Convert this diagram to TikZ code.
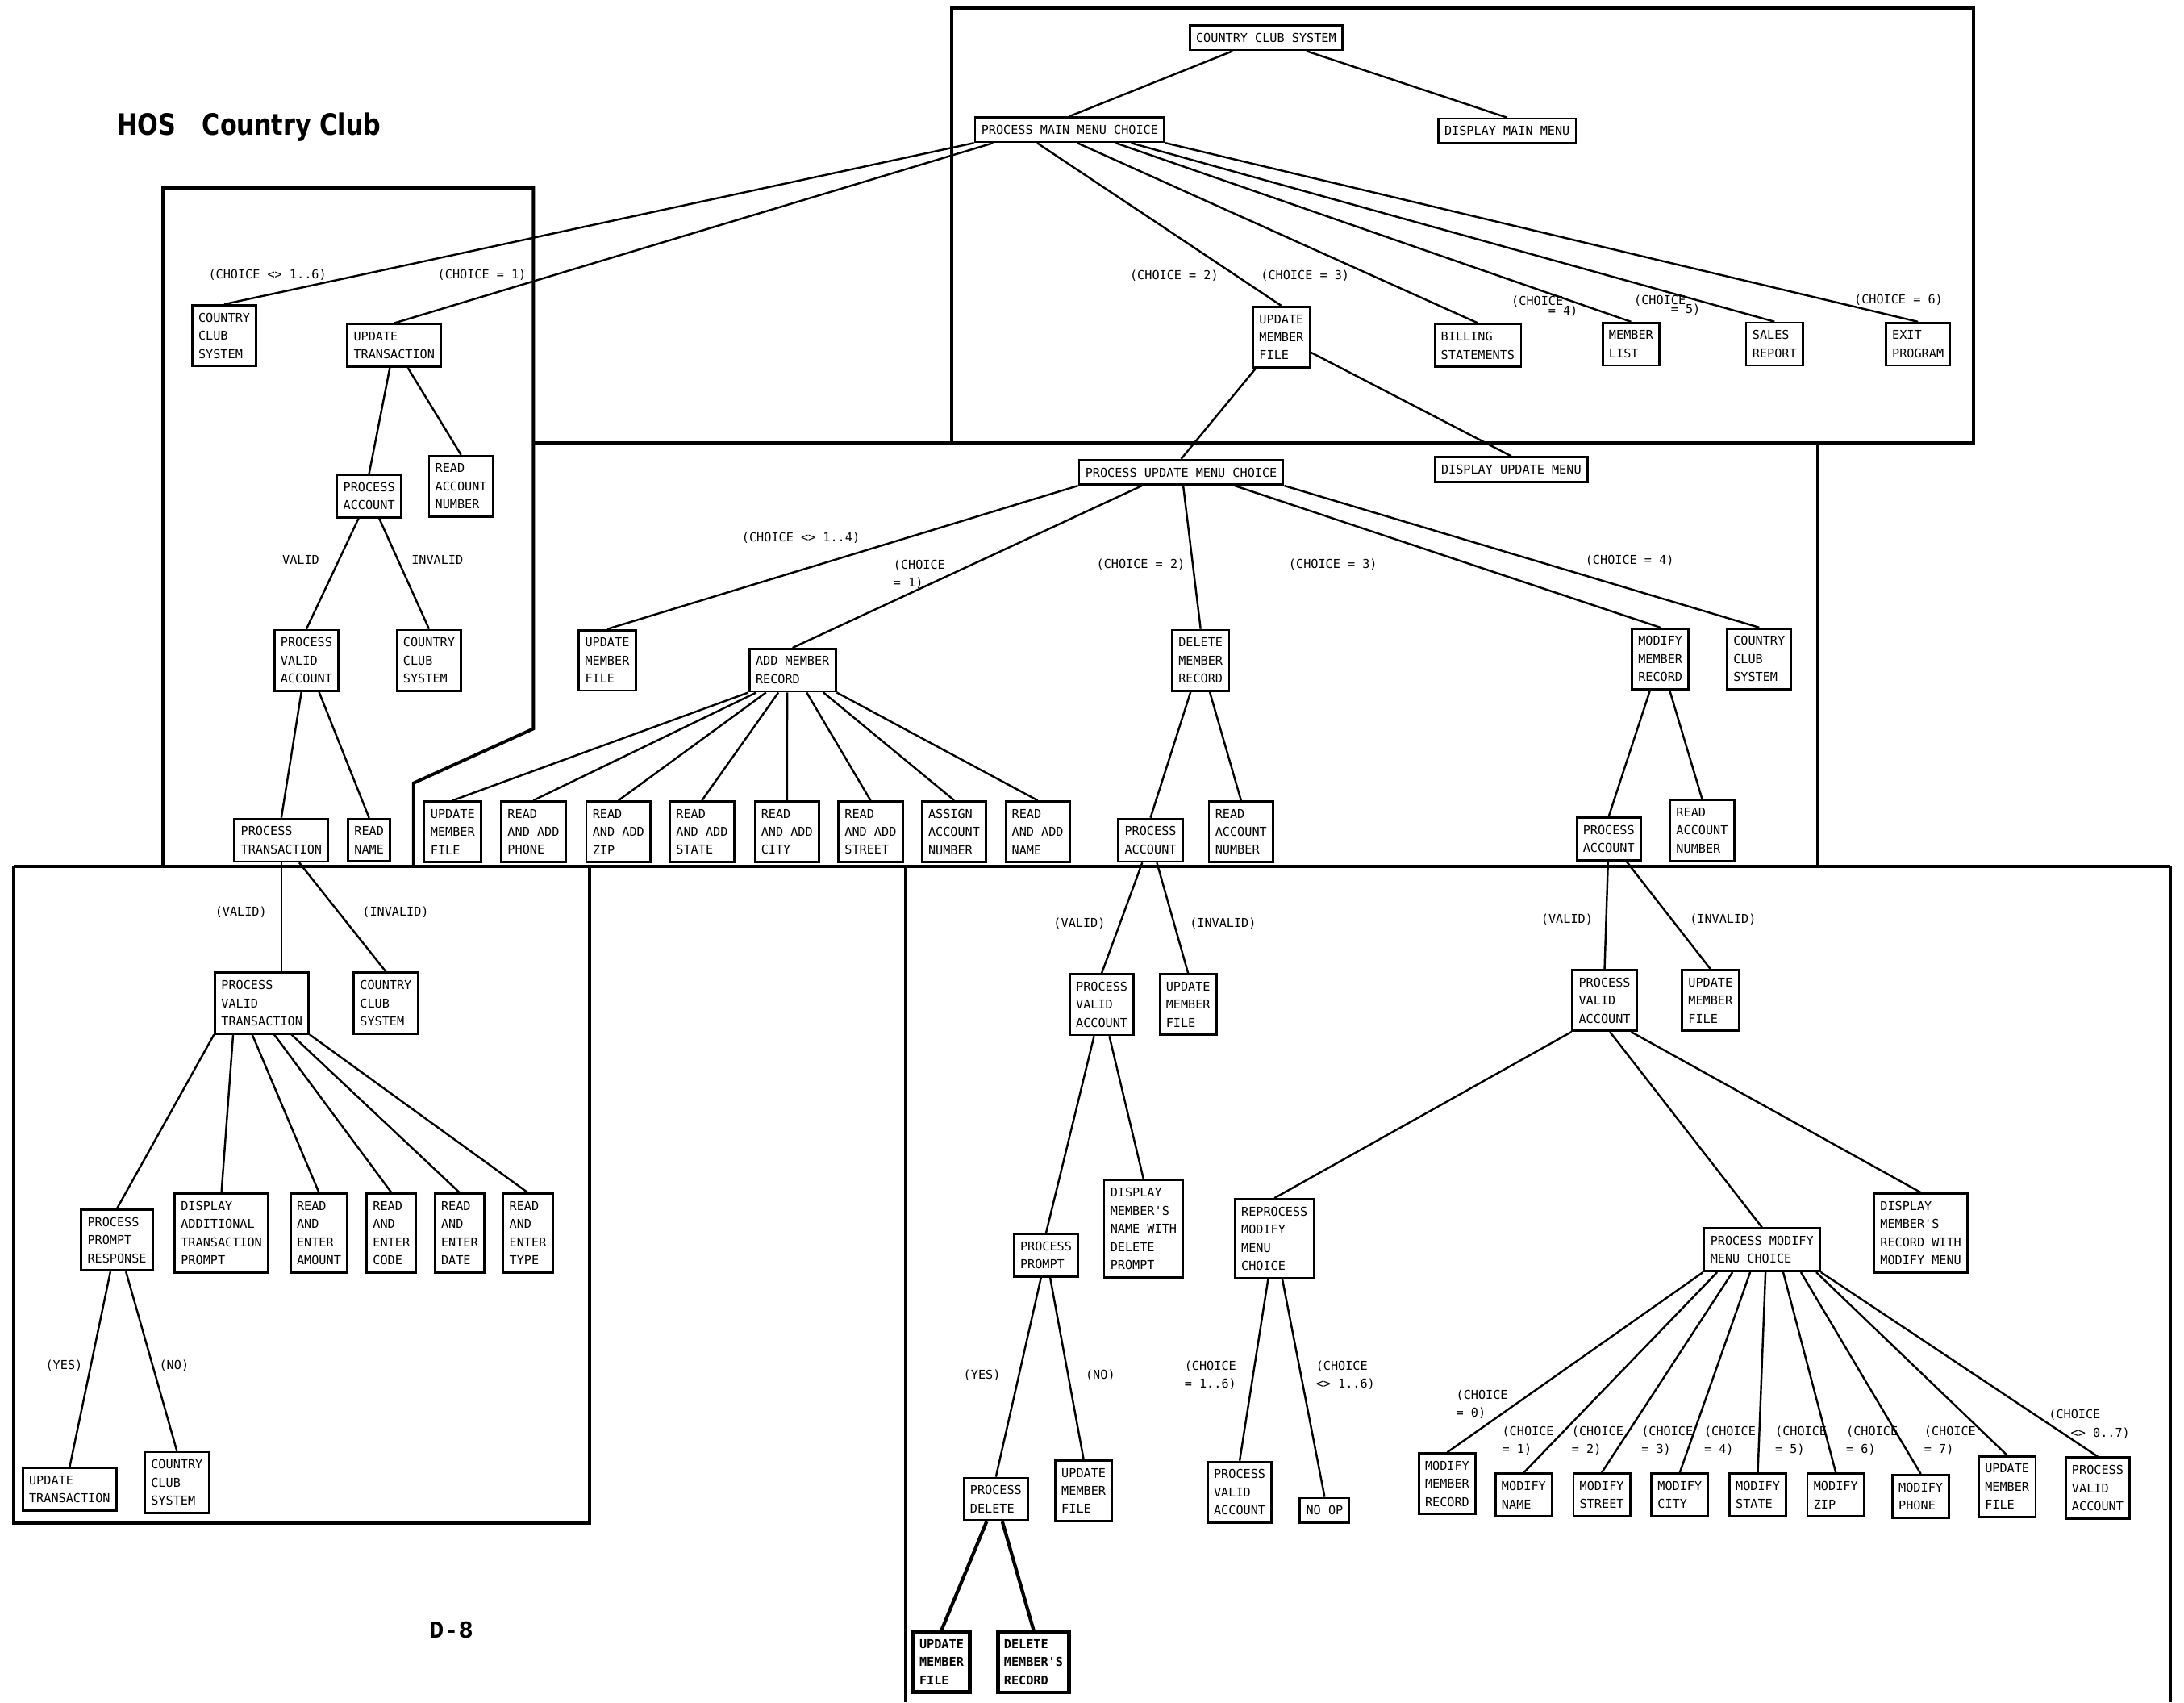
\documentclass[tikz,border=0pt]{standalone}
\usepackage{fontspec}
\newfontfamily\plotfont{DejaVu Sans Mono}
\newfontfamily\titlefont[FakeStretch=0.83]{DejaVu Sans}
\newfontfamily\pagefont{Liberation Mono}
\usetikzlibrary{calc}

\begin{document}
\begin{tikzpicture}[
    x=0.2mm, y=-0.2mm,
    box/.style = {
        rectangle, draw=black, line width=0.9pt,
        align=left, inner xsep=0.9mm, inner ysep=1.1mm,
        font=\fontsize{5}{7.4}\selectfont\plotfont
    },
    heavybox/.style = {
        box, line width=1.6pt,
        font=\fontsize{5}{7.4}\selectfont\plotfont\bfseries
    },
    lbl/.style = {
        inner sep=0pt, align=left,
        font=\fontsize{5}{7.4}\selectfont\plotfont
    },
    link/.style = {line width=0.8pt},
    heavylink/.style = {line width=1.4pt},
    panel/.style = {line width=1.3pt}
]
\useasboundingbox (0,0) rectangle (1568,1222);

% Title and page number
\node[anchor=west, font=\titlefont\bfseries\fontsize{12}{14}\selectfont] (title)
    at (78,91) {HOS\hspace{0.9em}Country Club};
\node[font=\pagefont\bfseries\fontsize{10}{12}\selectfont] (page) at (324,1170) {D-8};

% Panels
\draw[panel] (683,6) rectangle (1417,318);
\draw[panel] (117,622) -- (117,135) -- (383,135) -- (383,523) -- (297,562) -- (297,622);
\draw[panel] (383,318) -- (683,318);
\draw[panel] (1305,318) -- (1305,622);
\draw[panel] (10,622) -- (1558,622);
\draw[panel] (10,622) -- (10,1093) -- (423,1093) -- (423,622);
\draw[panel] (650,622) -- (650,1222);
\draw[panel] (1558,622) -- (1558,1222);

% Top panel
\node[box] (ccs)   at (909,27)   {COUNTRY CLUB SYSTEM};
\node[box] (pmmc)  at (768,93)   {PROCESS MAIN MENU CHOICE};
\node[box] (dmm)   at (1082,94)  {DISPLAY MAIN MENU};
\node[box] (umf)   at (920,242)  {UPDATE\\MEMBER\\FILE};
\node[box] (bill)  at (1061,248) {BILLING\\STATEMENTS};
\node[box] (mlist) at (1171,247) {MEMBER\\LIST};
\node[box] (sales) at (1274,247) {SALES\\REPORT};
\node[box] (exit)  at (1377,247) {EXIT\\PROGRAM};

\node[lbl] (ch2) at (843,198) {(CHOICE = 2)};
\node[lbl] (ch3) at (937,198) {(CHOICE = 3)};
\node[lbl, align=right] (ch4) at (1109,220) {(CHOICE\hspace*{1.2em}\\[-3.5pt]= 4)};
\node[lbl, align=right] (ch5) at (1197,219) {(CHOICE\hspace*{1.2em}\\[-3.5pt]= 5)};
\node[lbl] (ch6) at (1363,215) {(CHOICE = 6)};

% Left panel
\node[box] (ccsa) at (161,241) {COUNTRY\\CLUB\\SYSTEM};
\node[box] (ut)   at (283,248) {UPDATE\\TRANSACTION};
\node[box] (rana) at (331,349) {READ\\ACCOUNT\\NUMBER};
\node[box] (paa)  at (265,356) {PROCESS\\ACCOUNT};
\node[box] (pvaa) at (220,474) {PROCESS\\VALID\\ACCOUNT};
\node[box] (ccsb) at (308,474) {COUNTRY\\CLUB\\SYSTEM};
\node[box] (ptr)  at (202,603) {PROCESS\\TRANSACTION};
\node[box] (rnam) at (265,603) {READ\\NAME};

\node[lbl] (chx)  at (192,197) {(CHOICE <> 1..6)};
\node[lbl] (ch1)  at (346,197) {(CHOICE = 1)};
\node[lbl] (va)   at (216,402) {VALID};
\node[lbl] (inva) at (314,402) {INVALID};

% Middle panel
\node[box] (dum)  at (1085,337) {DISPLAY UPDATE MENU};
\node[box] (pumc) at (848,339)  {PROCESS UPDATE MENU CHOICE};
\node[box] (umfa) at (436,474)  {UPDATE\\MEMBER\\FILE};
\node[box] (amr)  at (569,481)  {ADD MEMBER\\RECORD};
\node[box] (dmr)  at (862,474)  {DELETE\\MEMBER\\RECORD};
\node[box] (mmr)  at (1192,473) {MODIFY\\MEMBER\\RECORD};
\node[box] (ccsc) at (1263,473) {COUNTRY\\CLUB\\SYSTEM};

\node[box] (umfb)    at (325,597) {UPDATE\\MEMBER\\FILE};
\node[box] (rphone)  at (383,597) {READ\\AND ADD\\PHONE};
\node[box] (rzip)    at (444,597) {READ\\AND ADD\\ZIP};
\node[box] (rstate)  at (504,597) {READ\\AND ADD\\STATE};
\node[box] (rcity)   at (565,597) {READ\\AND ADD\\CITY};
\node[box] (rstreet) at (625,597) {READ\\AND ADD\\STREET};
\node[box] (assign)  at (685,597) {ASSIGN\\ACCOUNT\\NUMBER};
\node[box] (rname)   at (745,597) {READ\\AND ADD\\NAME};
\node[box] (pab)     at (826,603) {PROCESS\\ACCOUNT};
\node[box] (ranb)    at (891,597) {READ\\ACCOUNT\\NUMBER};
\node[box] (pac)     at (1155,602) {PROCESS\\ACCOUNT};
\node[box] (ranc)    at (1222,596) {READ\\ACCOUNT\\NUMBER};

\node[lbl] (chy)  at (575,386)  {(CHOICE <> 1..4)};
\node[lbl] (chb1) at (660,412)  {(CHOICE\\= 1)};
\node[lbl] (chb2) at (819,405)  {(CHOICE = 2)};
\node[lbl] (chb3) at (957,405)  {(CHOICE = 3)};
\node[lbl] (chb4) at (1170,402) {(CHOICE = 4)};

% Bottom-left panel
\node[box] (pvt)  at (188,720)  {PROCESS\\VALID\\TRANSACTION};
\node[box] (ccsd) at (277,720)  {COUNTRY\\CLUB\\SYSTEM};
\node[box] (ppr)  at (84,890)   {PROCESS\\PROMPT\\RESPONSE};
\node[box] (dat)  at (159,885)  {DISPLAY\\ADDITIONAL\\TRANSACTION\\PROMPT};
\node[box] (rea)  at (229,885)  {READ\\AND\\ENTER\\AMOUNT};
\node[box] (rec)  at (281,885)  {READ\\AND\\ENTER\\CODE};
\node[box] (red)  at (330,885)  {READ\\AND\\ENTER\\DATE};
\node[box] (ret)  at (379,885)  {READ\\AND\\ENTER\\TYPE};
\node[box] (utb)  at (50,1069)  {UPDATE\\TRANSACTION};
\node[box] (ccse) at (127,1064) {COUNTRY\\CLUB\\SYSTEM};

\node[lbl] (vb)   at (173,655) {(VALID)};
\node[lbl] (invb) at (284,655) {(INVALID)};
\node[lbl] (yb)   at (46,980)  {(YES)};
\node[lbl] (nb)   at (125,980) {(NO)};

% Bottom-right panel, delete branch
\node[box] (pvac) at (791,721)  {PROCESS\\VALID\\ACCOUNT};
\node[box] (umfc) at (853,721)  {UPDATE\\MEMBER\\FILE};
\node[box] (ppt)  at (751,901)  {PROCESS\\PROMPT};
\node[box] (dmn)  at (821,882)  {DISPLAY\\MEMBER'S\\NAME WITH\\DELETE\\PROMPT};
\node[box] (pdel) at (715,1076) {PROCESS\\DELETE};
\node[box] (umfd) at (778,1070) {UPDATE\\MEMBER\\FILE};
\node[heavybox] (umfe)  at (676,1193) {UPDATE\\MEMBER\\FILE};
\node[heavybox] (dmrec) at (742,1193) {DELETE\\MEMBER'S\\RECORD};

\node[lbl] (vc)   at (775,663) {(VALID)};
\node[lbl] (invc) at (878,663) {(INVALID)};
\node[lbl] (yc)   at (705,987) {(YES)};
\node[lbl] (nc)   at (790,987) {(NO)};

% Bottom-right panel, modify branch
\node[box] (pvam) at (1152,718)  {PROCESS\\VALID\\ACCOUNT};
\node[box] (umff) at (1228,718)  {UPDATE\\MEMBER\\FILE};
\node[box] (rmmc) at (915,889)   {REPROCESS\\MODIFY\\MENU\\CHOICE};
\node[box] (pmmd) at (1265,897)  {PROCESS MODIFY\\MENU CHOICE};
\node[box] (dmrw) at (1379,885)  {DISPLAY\\MEMBER'S\\RECORD WITH\\MODIFY MENU};
\node[box] (pvan) at (890,1071)  {PROCESS\\VALID\\ACCOUNT};
\node[box] (noop) at (951,1084)  {NO OP};
\node[box] (mmrb) at (1039,1065) {MODIFY\\MEMBER\\RECORD};
\node[box] (mnam) at (1094,1073) {MODIFY\\NAME};
\node[box] (mstr) at (1150,1073) {MODIFY\\STREET};
\node[box] (mcit) at (1206,1073) {MODIFY\\CITY};
\node[box] (msta) at (1262,1073) {MODIFY\\STATE};
\node[box] (mzip) at (1318,1073) {MODIFY\\ZIP};
\node[box] (mpho) at (1379,1074) {MODIFY\\PHONE};
\node[box] (umfg) at (1441,1067) {UPDATE\\MEMBER\\FILE};
\node[box] (pvao) at (1506,1068) {PROCESS\\VALID\\ACCOUNT};

\node[lbl] (vd)   at (1125,660) {(VALID)};
\node[lbl] (invd) at (1237,660) {(INVALID)};
\node[lbl] (chc1) at (869,987)   {(CHOICE\\= 1..6)};
\node[lbl] (chc2) at (966,987)   {(CHOICE\\<> 1..6)};
\node[lbl] (chd0) at (1064,1008) {(CHOICE\\= 0)};
\node[lbl] (chd1) at (1097,1034) {(CHOICE\\= 1)};
\node[lbl] (chd2) at (1147,1034) {(CHOICE\\= 2)};
\node[lbl] (chd3) at (1197,1034) {(CHOICE\\= 3)};
\node[lbl] (chd4) at (1242,1034) {(CHOICE\\= 4)};
\node[lbl] (chd5) at (1293,1034) {(CHOICE\\= 5)};
\node[lbl] (chd6) at (1344,1034) {(CHOICE\\= 6)};
\node[lbl] (chd7) at (1400,1034) {(CHOICE\\= 7)};
\node[lbl] (chd8) at (1500,1022) {(CHOICE\\\hspace*{1.8em}<> 0..7)};

% Lines, top
\draw[link] (ccs)  -- (pmmc.north);
\draw[link] (ccs)  -- (dmm.north);
\draw[link] (pmmc.south west) -- (ccsa.north);
\draw[link] ($(pmmc.south west)!.10!(pmmc.south east)$) -- (ut.north);
\draw[link] ($(pmmc.south west)!.33!(pmmc.south east)$) -- (umf.north);
\draw[link] ($(pmmc.south west)!.54!(pmmc.south east)$) -- (bill.north);
\draw[link] ($(pmmc.south west)!.74!(pmmc.south east)$) -- (mlist.north);
\draw[link] ($(pmmc.south west)!.82!(pmmc.south east)$) -- (sales.north);
\draw[link] (pmmc.south east) -- (exit.north);
\draw[link] (umf)  -- (pumc.north);
\draw[link] (umf)  -- (dum.north);

% Lines, left
\draw[link] (ut)   -- (paa.north);
\draw[link] (ut)   -- (rana.north);
\draw[link] (paa)  -- (pvaa.north);
\draw[link] (paa)  -- (ccsb.north);
\draw[link] (pvaa) -- (ptr.north);
\draw[link] (pvaa) -- (rnam.north);

% Lines, middle
\draw[link] (pumc.south west) -- (umfa.north);
\draw[link] ($(pumc.south west)!.31!(pumc.south east)$) -- (amr.north);
\draw[link] ($(pumc.south west)!.51!(pumc.south east)$) -- (dmr.north);
\draw[link] ($(pumc.south west)!.76!(pumc.south east)$) -- (mmr.north);
\draw[link] (pumc.south east) -- (ccsc.north);
\draw[link] (amr.south west) -- (umfb.north);
\draw[link] ($(amr.south west)!.09!(amr.south east)$) -- (rphone.north);
\draw[link] ($(amr.south west)!.20!(amr.south east)$) -- (rzip.north);
\draw[link] ($(amr.south west)!.34!(amr.south east)$) -- (rstate.north);
\draw[link] ($(amr.south west)!.44!(amr.south east)$) -- (rcity.north);
\draw[link] ($(amr.south west)!.66!(amr.south east)$) -- (rstreet.north);
\draw[link] ($(amr.south west)!.85!(amr.south east)$) -- (assign.north);
\draw[link] (amr.south east) -- (rname.north);
\draw[link] (dmr)  -- (pab.north);
\draw[link] (dmr)  -- (ranb.north);
\draw[link] (mmr)  -- (pac.north);
\draw[link] (mmr)  -- (ranc.north);

% Lines, bottom left
\draw[link] (ptr)  -- (ptr |- pvt.north);
\draw[link] (ptr)  -- (ccsd.north);
\draw[link] (pvt.south west) -- (ppr.north);
\draw[link] ($(pvt.south west)!.20!(pvt.south east)$) -- (dat.north);
\draw[link] ($(pvt.south west)!.40!(pvt.south east)$) -- (rea.north);
\draw[link] ($(pvt.south west)!.63!(pvt.south east)$) -- (rec.north);
\draw[link] ($(pvt.south west)!.81!(pvt.south east)$) -- (red.north);
\draw[link] (pvt.south east) -- (ret.north);
\draw[link] (ppr)  -- (utb.north);
\draw[link] (ppr)  -- (ccse.north);

% Lines, bottom right
\draw[link] (pab)  -- (pvac.north);
\draw[link] (pab)  -- (umfc.north);
\draw[link] (pvac) -- (ppt.north);
\draw[link] (pvac) -- (dmn.north);
\draw[link] (ppt)  -- (pdel.north);
\draw[link] (ppt)  -- (umfd.north);
\draw[heavylink] (pdel) -- (umfe.north);
\draw[heavylink] (pdel) -- (dmrec.north);
\draw[link] (pac)  -- (pvam.north);
\draw[link] (pac)  -- (umff.north);
\draw[link] (pvam.south west) -- (rmmc.north);
\draw[link] ($(pvam.south west)!.58!(pvam.south east)$) -- (pmmd.north);
\draw[link] ($(pvam.south west)!.90!(pvam.south east)$) -- (dmrw.north);
\draw[link] (rmmc) -- (pvan.north);
\draw[link] (rmmc) -- (noop.north);
\draw[link] (pmmd.south west) -- (mmrb.north);
\draw[link] ($(pmmd.south west)!.12!(pmmd.south east)$) -- (mnam.north);
\draw[link] ($(pmmd.south west)!.25!(pmmd.south east)$) -- (mstr.north);
\draw[link] ($(pmmd.south west)!.40!(pmmd.south east)$) -- (mcit.north);
\draw[link] ($(pmmd.south west)!.53!(pmmd.south east)$) -- (msta.north);
\draw[link] ($(pmmd.south west)!.68!(pmmd.south east)$) -- (mzip.north);
\draw[link] ($(pmmd.south west)!.83!(pmmd.south east)$) -- (mpho.north);
\draw[link] ($(pmmd.south west)!.96!(pmmd.south east)$) -- (umfg.north);
\draw[link] (pmmd.south east) -- (pvao.north);

\end{tikzpicture}
\end{document}
